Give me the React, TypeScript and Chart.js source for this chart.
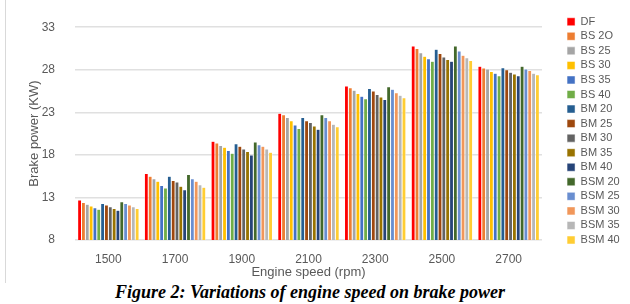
import React, { useEffect, useRef } from "react";
import { Chart, registerables } from "chart.js";

Chart.register(...registerables);

const categories = ["1500", "1700", "1900", "2100", "2300", "2500", "2700"];

const seriesNames = [
  "DF", "BS 2O", "BS 25", "BS 30", "BS 35", "BS 40",
  "BM 20", "BM 25", "BM 30", "BM 35", "BM 40",
  "BSM 20", "BSM 25", "BSM 30", "BSM 35", "BSM 40",
];

const seriesColors = [
  "#FF0000", "#ED7D31", "#A5A5A5", "#FFC000", "#4472C4", "#70AD47",
  "#255E91", "#9E480E", "#636363", "#997300", "#264478",
  "#43682B", "#698ED0", "#F1975A", "#B7B7B7", "#FFCD33",
];

const DF = [12.7, 15.8, 19.6, 22.9, 26.1, 30.8, 28.4];
const BS20 = [12.4, 15.5, 19.4, 22.7, 25.9, 30.5, 28.2];
const BS25 = [12.2, 15.2, 19.1, 22.4, 25.6, 30.0, 28.1];
const BS30 = [12.0, 14.9, 18.9, 22.0, 25.2, 29.6, 27.8];
const BS35 = [11.8, 14.4, 18.5, 21.5, 24.9, 29.3, 27.6];
const BS40 = [11.6, 14.1, 18.2, 21.1, 24.6, 29.0, 27.3];
const BM20 = [12.3, 15.5, 19.3, 22.4, 25.8, 30.4, 28.25];
const BM25 = [12.1, 15.0, 19.0, 22.0, 25.5, 29.9, 28.0];
const BM30 = [11.9, 14.8, 18.7, 21.8, 25.1, 29.5, 27.7];
const BM35 = [11.7, 14.3, 18.4, 21.4, 24.8, 29.2, 27.5];
const BM40 = [11.5, 13.9, 18.0, 21.0, 24.5, 29.0, 27.3];
const BSM20 = [12.5, 15.7, 19.5, 22.7, 26.0, 30.8, 28.4];
const BSM25 = [12.3, 15.2, 19.2, 22.4, 25.7, 30.2, 28.1];
const BSM30 = [12.1, 14.9, 19.0, 22.0, 25.3, 29.7, 27.9];
const BSM35 = [11.9, 14.5, 18.7, 21.6, 25.0, 29.4, 27.6];
const BSM40 = [11.7, 14.2, 18.3, 21.3, 24.7, 29.1, 27.4];

const seriesValues = [
  DF, BS20, BS25, BS30, BS35, BS40,
  BM20, BM25, BM30, BM35, BM40,
  BSM20, BSM25, BSM30, BSM35, BSM40,
];

const yMin = 8;
const yMax = 33;
const yStep = 5;

const yTitle = "Brake power (KW)";
const xTitle = "Engine speed (rpm)";
const caption = "Figure 2: Variations of engine speed on brake power";

export default function App() {
  const ref = useRef<HTMLCanvasElement | null>(null);

  useEffect(() => {
    const canvas = ref.current;
    if (!canvas) return;
    const FONT = "'Liberation Sans', Arial, sans-serif";
    const TEXT = "#595959";

    const layoutPlugin = {
      id: "fixLayout",
      beforeLayout(chart: any) {
        const lg = chart.legend;
        if (lg && !lg._patched) {
          const orig = lg.fit;
          lg.fit = function () {
            orig.call(this);
            this.width = 88;
          };
          lg._patched = true;
        }
      },
      afterLayout(chart: any) {
        const lg = chart.legend;
        if (lg) {
          const w = lg.width;
          const h = lg.height;
          lg.left = 563.5;
          lg.right = lg.left + w;
          lg.top = 12.7;
          lg.bottom = lg.top + h;
        }
      },
    };

    const chart = new Chart(canvas, {
      type: "bar",
      data: {
        labels: categories,
        datasets: seriesNames.map((name, i) => ({
          label: name,
          data: seriesValues[i],
          backgroundColor: seriesColors[i],
          borderColor: "#ffffff",
          borderWidth: 0.5,
          categoryPercentage: 0.92,
          barPercentage: 1,
        })),
      },
      options: {
        responsive: false,
        animation: false,
        devicePixelRatio: 1,
        layout: { padding: { top: 22, left: 0, right: 0, bottom: 0 } },
        plugins: {
          legend: {
            position: "right",
            align: "start",
            labels: {
              boxWidth: 8,
              boxHeight: 8,
              padding: 3.55,
              color: TEXT,
              font: { family: FONT, size: 11 },
            },
          },
          tooltip: { enabled: false },
          title: { display: false },
        },
        scales: {
          x: {
            grid: { display: false, drawTicks: false },
            border: { display: false },
            ticks: { color: TEXT, font: { family: FONT, size: 12 }, padding: 12 },
            title: {
              display: true,
              text: xTitle,
              color: TEXT,
              font: { family: FONT, size: 13 },
              padding: { top: 0, bottom: 1.5 },
            },
            afterFit: (s: any) => {
              s.height = 42;
            },
          },
          y: {
            min: yMin,
            max: yMax,
            grid: { color: "#e0e0e0", lineWidth: 1.5, drawTicks: false },
            border: { display: false },
            ticks: {
              stepSize: yStep,
              color: TEXT,
              font: { family: FONT, size: 12 },
              padding: 20,
            },
            title: {
              display: true,
              text: yTitle,
              color: TEXT,
              font: { family: FONT, size: 13 },
              padding: { top: 27, bottom: 0 },
            },
            afterFit: (s: any) => {
              s.width = 75;
            },
          },
        },
      },
      plugins: [layoutPlugin],
    } as any);

    return () => {
      chart.destroy();
    };
  }, []);

  return (
    <div
      style={{
        position: "fixed",
        left: 0,
        top: 0,
        width: 630,
        height: 304,
        background: "#ffffff",
        overflow: "hidden",
      }}
    >
      <div
        style={{
          position: "absolute",
          left: 5,
          top: 0,
          width: 1,
          height: 283,
          background: "#d9d9d9",
        }}
      />
      <canvas
        ref={ref}
        width={630}
        height={282}
        style={{ position: "absolute", left: 0, top: 0, width: 630, height: 282 }}
      />
      <div
        style={{
          position: "absolute",
          left: 0,
          top: 282,
          width: 620,
          textAlign: "center",
          font: "bold italic 18px 'Liberation Serif', 'Times New Roman', serif",
          lineHeight: "20px",
          color: "#000000",
        }}
      >
        {caption}
      </div>
    </div>
  );
}
